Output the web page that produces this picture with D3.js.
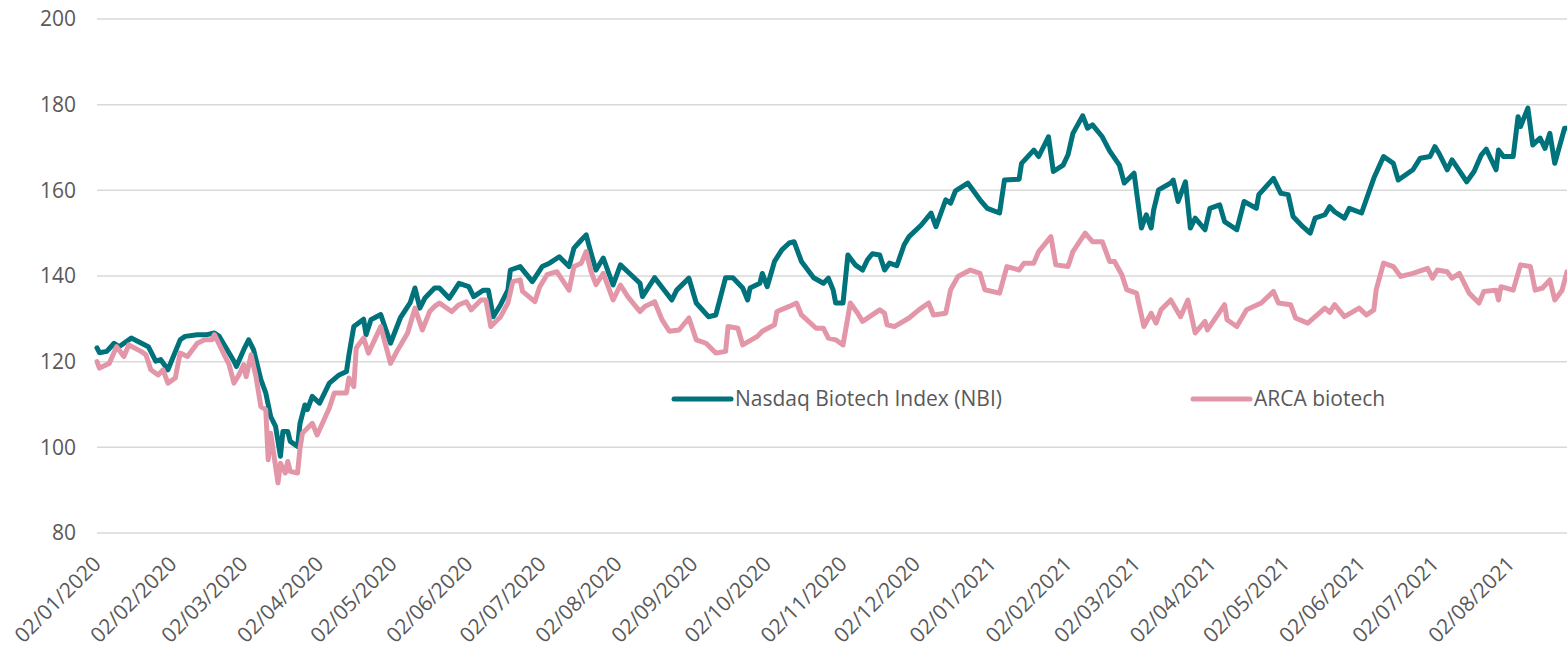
<!DOCTYPE html>
<html>
<head>
	<meta charset="utf-8">
	<title>NBI vs ARCA biotech</title>
	<script src="https://d3js.org/d3.v7.min.js"></script>
	<style>
		body { margin: 0; background: #fff; }
		text { font-family: "Open Sans", sans-serif; fill: #595959; }
		.grid line { stroke: #d9d9d9; stroke-width: 1.5px; }
		.series { fill: none; stroke-width: 5px; stroke-linejoin: round; stroke-linecap: round; }
	</style>
</head>
<body>
<div id="chart"></div>
<script>
// values
var yTicks = [80, 100, 120, 140, 160, 180, 200];

var tickLabels = ["02/01/2020", "02/02/2020", "02/03/2020", "02/04/2020", "02/05/2020",
	"02/06/2020", "02/07/2020", "02/08/2020", "02/09/2020", "02/10/2020", "02/11/2020",
	"02/12/2020", "02/01/2021", "02/02/2021", "02/03/2021", "02/04/2021", "02/05/2021",
	"02/06/2021", "02/07/2021", "02/08/2021"];

var seriesNames = ["Nasdaq Biotech Index (NBI)", "ARCA biotech"];
var seriesColors = ["#00727b", "#e296a8"];

var nbiDates = ["2020-01-02","2020-01-03","2020-01-06","2020-01-09","2020-01-11","2020-01-16","2020-01-23","2020-01-26","2020-01-28","2020-01-31",
	"2020-02-05","2020-02-07","2020-02-12","2020-02-16","2020-02-19","2020-02-21","2020-02-25","2020-02-27","2020-02-28",
	"2020-03-02","2020-03-04","2020-03-06","2020-03-09","2020-03-11","2020-03-13","2020-03-15","2020-03-17","2020-03-18","2020-03-20","2020-03-21","2020-03-24","2020-03-25","2020-03-27","2020-03-28","2020-03-30",
	"2020-04-02","2020-04-06","2020-04-10","2020-04-13","2020-04-14","2020-04-16","2020-04-20","2020-04-21","2020-04-23","2020-04-27",
	"2020-05-01","2020-05-05","2020-05-09","2020-05-11","2020-05-13","2020-05-15","2020-05-19","2020-05-21","2020-05-25","2020-05-29",
	"2020-06-02","2020-06-04","2020-06-08","2020-06-10","2020-06-12","2020-06-15","2020-06-18","2020-06-19","2020-06-23","2020-06-28",
	"2020-07-02","2020-07-05","2020-07-09","2020-07-13","2020-07-15","2020-07-18","2020-07-20","2020-07-22","2020-07-24","2020-07-27","2020-07-29","2020-07-31",
	"2020-08-03","2020-08-06","2020-08-11","2020-08-12","2020-08-17","2020-08-24","2020-08-26","2020-08-31",
	"2020-09-03","2020-09-08","2020-09-11","2020-09-15","2020-09-18","2020-09-22","2020-09-24","2020-09-25","2020-09-29","2020-09-30",
	"2020-10-02","2020-10-05","2020-10-08","2020-10-11","2020-10-13","2020-10-16","2020-10-21","2020-10-25","2020-10-27","2020-10-29","2020-10-30",
	"2020-11-02","2020-11-04","2020-11-07","2020-11-10","2020-11-12","2020-11-14","2020-11-17","2020-11-19","2020-11-21","2020-11-24","2020-11-27","2020-11-29",
	"2020-12-04","2020-12-08","2020-12-10","2020-12-14","2020-12-16","2020-12-18","2020-12-23","2020-12-28","2020-12-31",
	"2021-01-05","2021-01-07","2021-01-13","2021-01-14","2021-01-19","2021-01-21","2021-01-25","2021-01-27","2021-01-31",
	"2021-02-02","2021-02-04","2021-02-08","2021-02-10","2021-02-12","2021-02-16","2021-02-19","2021-02-23","2021-02-25",
	"2021-03-01","2021-03-04","2021-03-06","2021-03-08","2021-03-09","2021-03-11","2021-03-16","2021-03-17","2021-03-19","2021-03-22","2021-03-24","2021-03-26","2021-03-30",
	"2021-04-01","2021-04-05","2021-04-07","2021-04-12","2021-04-15","2021-04-20","2021-04-21","2021-04-27","2021-04-30",
	"2021-05-03","2021-05-05","2021-05-09","2021-05-12","2021-05-14","2021-05-18","2021-05-20","2021-05-22","2021-05-26","2021-05-28",
	"2021-06-02","2021-06-07","2021-06-11","2021-06-15","2021-06-17","2021-06-23","2021-06-26","2021-06-30",
	"2021-07-02","2021-07-04","2021-07-07","2021-07-09","2021-07-15","2021-07-18","2021-07-21","2021-07-23","2021-07-27","2021-07-28","2021-07-30",
	"2021-08-03","2021-08-05","2021-08-06","2021-08-09","2021-08-11","2021-08-14","2021-08-16","2021-08-18","2021-08-20","2021-08-24","2021-08-25"];

var nbiValues = [123.2,122.1,122.4,124.3,123.5,125.5,123.5,120.1,120.5,118.1,
	125.1,125.9,126.3,126.3,126.7,125.9,122.0,120.1,118.9,
	122.8,125.1,122.8,115.8,112.7,107.2,104.9,97.9,103.7,103.7,101.4,100.2,105.6,109.9,108.8,111.9,
	110.3,115.0,116.9,117.7,121.6,128.2,129.9,126.3,129.8,131.0,
	124.3,130.2,133.7,137.2,132.5,134.8,137.2,137.2,134.8,138.3,
	137.5,135.2,136.7,136.7,130.5,133.3,136.7,141.4,142.2,138.7,
	142.2,143.0,144.5,142.2,146.5,148.4,149.6,145.3,141.4,144.2,141.0,137.9,
	142.6,141.0,138.3,135.2,139.6,134.4,136.7,139.5,
	133.7,130.5,130.9,139.6,139.6,137.2,134.4,137.2,138.3,140.6,
	137.5,143.4,146.1,147.7,148.0,143.4,139.6,138.3,139.5,136.7,133.7,
	133.7,144.9,142.6,141.4,143.8,145.2,144.9,141.4,143.0,142.4,147.3,149.2,
	151.9,154.7,151.5,157.8,157.0,159.9,161.7,157.8,155.8,
	154.7,162.4,162.6,166.3,169.4,167.9,172.5,164.4,165.9,
	168.3,173.3,177.4,174.5,175.3,172.5,169.2,165.9,161.7,
	164.0,151.2,154.3,151.2,155.4,160.1,161.7,162.4,157.4,162.0,151.2,153.5,150.8,
	155.8,156.6,152.7,150.8,157.4,155.8,159.0,162.8,159.3,
	159.0,153.9,151.5,150.0,153.5,154.3,156.2,155.0,153.5,155.8,
	154.7,162.8,167.9,166.3,162.4,164.8,167.5,167.9,
	170.2,168.3,164.8,167.1,162.0,164.4,168.3,169.6,164.8,169.4,167.9,
	167.9,177.2,174.9,179.2,170.6,172.2,169.8,173.3,166.3,174.5,174.5];

var arcaDates = ["2020-01-02","2020-01-03","2020-01-07","2020-01-10","2020-01-13","2020-01-15","2020-01-20","2020-01-22","2020-01-24","2020-01-27","2020-01-29","2020-01-31",
	"2020-02-03","2020-02-05","2020-02-08","2020-02-12","2020-02-15","2020-02-18","2020-02-19","2020-02-25","2020-02-27","2020-02-29",
	"2020-03-02","2020-03-03","2020-03-05","2020-03-07","2020-03-09","2020-03-11","2020-03-12","2020-03-13","2020-03-16","2020-03-17","2020-03-19","2020-03-20","2020-03-21","2020-03-24","2020-03-25","2020-03-26","2020-03-30",
	"2020-04-01","2020-04-06","2020-04-08","2020-04-13","2020-04-14","2020-04-16","2020-04-17","2020-04-20","2020-04-22","2020-04-27",
	"2020-05-01","2020-05-04","2020-05-08","2020-05-11","2020-05-14","2020-05-17","2020-05-19","2020-05-21","2020-05-26","2020-05-29",
	"2020-06-01","2020-06-03","2020-06-07","2020-06-09","2020-06-11","2020-06-15","2020-06-18","2020-06-20","2020-06-23","2020-06-24","2020-06-29",
	"2020-07-01","2020-07-04","2020-07-08","2020-07-13","2020-07-15","2020-07-18","2020-07-20","2020-07-22","2020-07-24","2020-07-27","2020-07-31",
	"2020-08-03","2020-08-06","2020-08-11","2020-08-13","2020-08-17","2020-08-20","2020-08-23","2020-08-27","2020-08-31",
	"2020-09-03","2020-09-07","2020-09-11","2020-09-15","2020-09-16","2020-09-20","2020-09-22","2020-09-28","2020-09-30",
	"2020-10-05","2020-10-06","2020-10-11","2020-10-14","2020-10-16","2020-10-22","2020-10-25","2020-10-27","2020-10-30",
	"2020-11-02","2020-11-05","2020-11-08","2020-11-10","2020-11-17","2020-11-19","2020-11-20","2020-11-23","2020-11-29",
	"2020-12-03","2020-12-07","2020-12-09","2020-12-14","2020-12-16","2020-12-19","2020-12-24","2020-12-28","2020-12-30",
	"2021-01-05","2021-01-08","2021-01-13","2021-01-15","2021-01-19","2021-01-21","2021-01-26","2021-01-28",
	"2021-02-02","2021-02-04","2021-02-09","2021-02-12","2021-02-16","2021-02-19","2021-02-21","2021-02-24","2021-02-26",
	"2021-03-02","2021-03-05","2021-03-08","2021-03-10","2021-03-12","2021-03-16","2021-03-20","2021-03-23","2021-03-26","2021-03-30","2021-03-31",
	"2021-04-07","2021-04-08","2021-04-12","2021-04-16","2021-04-22","2021-04-27","2021-04-29",
	"2021-05-04","2021-05-06","2021-05-11","2021-05-18","2021-05-20","2021-05-22","2021-05-26",
	"2021-06-01","2021-06-04","2021-06-07","2021-06-08","2021-06-11","2021-06-15","2021-06-18","2021-06-23","2021-06-29",
	"2021-07-01","2021-07-03","2021-07-07","2021-07-09","2021-07-12","2021-07-16","2021-07-20","2021-07-22","2021-07-27","2021-07-28","2021-07-29",
	"2021-08-03","2021-08-06","2021-08-10","2021-08-12","2021-08-15","2021-08-18","2021-08-20","2021-08-23","2021-08-25"];

var arcaValues = [120.0,118.5,119.6,123.5,121.2,123.9,122.4,121.6,118.1,116.9,118.1,115.0,
	116.2,122.0,121.2,124.3,125.1,125.1,126.3,119.3,115.0,116.9,
	119.3,116.5,121.6,116.5,109.5,108.8,97.1,103.3,91.7,96.3,94.0,96.7,94.4,94.0,99.8,103.3,105.6,
	102.9,109.2,112.7,112.7,116.2,114.2,123.2,125.5,122.0,128.2,
	119.6,122.8,126.7,132.5,127.4,131.7,132.9,133.7,131.7,133.3,
	134.0,132.1,134.4,134.4,128.2,130.5,133.7,138.7,139.1,136.4,134.0,
	137.5,140.3,141.0,136.7,142.2,143.0,145.7,141.0,138.0,140.6,134.4,
	137.9,135.2,131.7,132.9,134.0,129.8,127.1,127.4,130.2,
	125.1,124.3,122.0,122.4,128.2,127.8,123.9,125.9,127.1,
	128.6,131.7,132.9,133.7,130.9,127.8,127.8,125.5,125.1,
	123.9,133.7,131.3,129.4,132.1,131.3,128.6,128.2,130.2,
	132.1,133.7,130.9,131.3,136.8,139.9,141.4,140.6,136.8,
	136.0,142.2,141.4,143.0,143.0,145.7,149.2,142.6,
	142.2,145.7,150.0,148.0,148.0,143.4,143.4,140.3,136.8,
	136.0,128.2,131.3,129.0,132.1,134.4,130.5,134.4,126.7,129.4,127.4,
	133.3,129.8,128.2,132.1,133.7,136.4,133.7,
	133.3,130.2,129.0,132.5,131.5,133.3,130.5,
	132.5,130.9,132.1,136.8,143.0,142.2,139.9,140.6,141.8,
	139.5,141.4,141.0,139.5,140.6,136.0,133.7,136.4,136.7,134.4,137.5,
	136.7,142.6,142.2,136.7,137.2,139.1,134.4,136.7,141.0];

var W = 1567, H = 650;
var parseDay = d3.timeParse("%Y-%m-%d");
var parseTick = d3.timeParse("%d/%m/%Y");

var svg = d3.select("#chart").append("svg")
	.attr("width", W)
	.attr("height", H);

var x = d3.scaleTime()
	.domain([parseDay("2020-01-02"), parseDay("2021-08-25")])
	.range([97, 1567]);

var y = d3.scaleLinear()
	.domain([80, 200])
	.range([533, 19]);

// horizontal gridlines
svg.append("g").attr("class", "grid")
	.selectAll("line").data(yTicks).enter().append("line")
	.attr("x1", 97).attr("x2", W)
	.attr("y1", function(d) { return y(d); })
	.attr("y2", function(d) { return y(d); });

// y axis labels
svg.append("g")
	.selectAll("text").data(yTicks).enter().append("text")
	.attr("x", 76)
	.attr("y", function(d) { return y(d); })
	.attr("dy", "0.35em")
	.attr("text-anchor", "end")
	.style("font-size", "21px")
	.text(function(d) { return d; });

// x axis labels, rotated
svg.append("g")
	.selectAll("text").data(tickLabels).enter().append("text")
	.attr("transform", function(d) { return "translate(" + x(parseTick(d)) + ",560) rotate(-45)"; })
	.attr("dy", "0.35em")
	.attr("text-anchor", "end")
	.style("font-size", "21px")
	.text(function(d) { return d; });

var line = d3.line()
	.x(function(d) { return x(d[0]); })
	.y(function(d) { return y(d[1]); });

var nbi = nbiDates.map(function(d, i) { return [parseDay(d), nbiValues[i]]; });
var arca = arcaDates.map(function(d, i) { return [parseDay(d), arcaValues[i]]; });

svg.append("path").datum(nbi)
	.attr("class", "series")
	.attr("stroke", seriesColors[0])
	.attr("d", line);

svg.append("path").datum(arca)
	.attr("class", "series")
	.attr("stroke", seriesColors[1])
	.attr("d", line);

// legend
var legendX = [674, 1193];
var leg = svg.append("g").selectAll("g").data(seriesNames).enter().append("g")
	.attr("transform", function(d, i) { return "translate(" + legendX[i] + ",399)"; });

leg.append("line")
	.attr("x1", 0).attr("x2", 57)
	.attr("stroke", function(d, i) { return seriesColors[i]; })
	.attr("stroke-width", 5)
	.attr("stroke-linecap", "round");

leg.append("text")
	.attr("x", 61)
	.attr("dy", "0.35em")
	.style("font-size", "21px")
	.text(function(d) { return d; });
</script>
</body>
</html>
